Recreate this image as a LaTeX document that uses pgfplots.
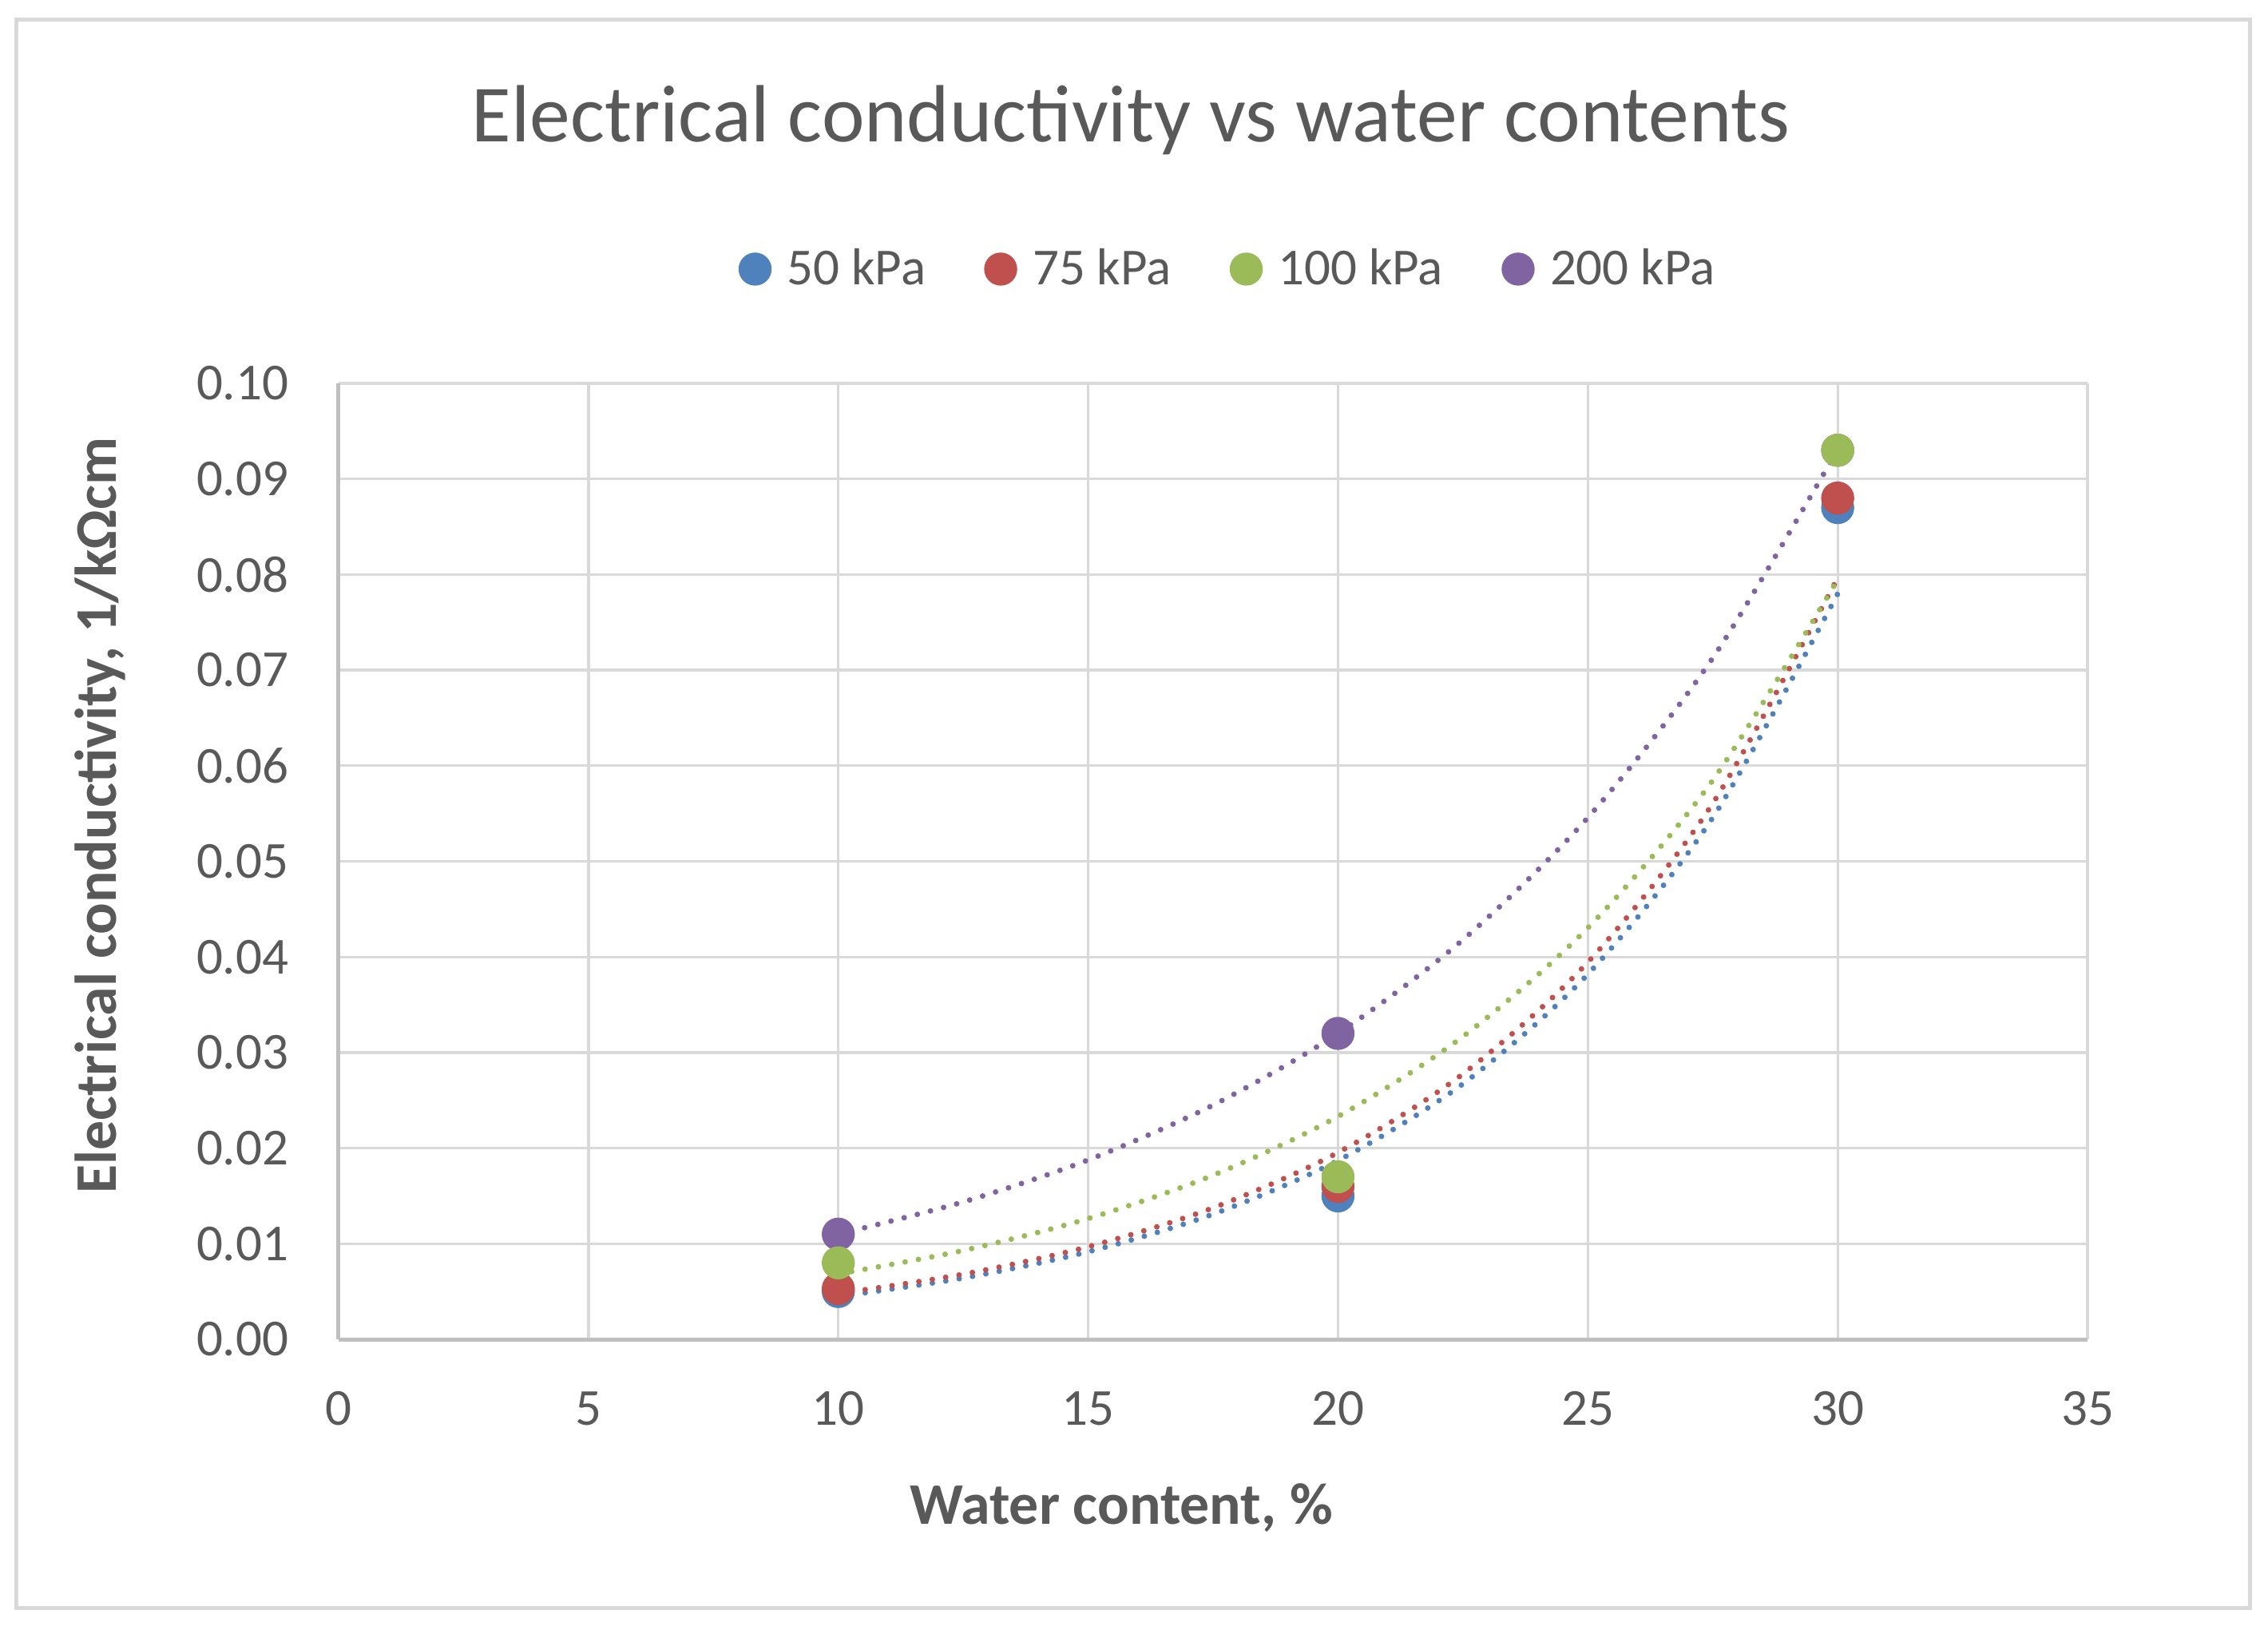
\documentclass[border=0pt]{standalone}
\usepackage{pgfplots}
\pgfplotsset{compat=1.18}
\usepackage{fontspec}
\setmainfont{Carlito}
\definecolor{cblue}{HTML}{4F81BD}
\definecolor{cred}{HTML}{C0504D}
\definecolor{cgreen}{HTML}{9BBB59}
\definecolor{cpurple}{HTML}{8064A2}
\definecolor{txtgray}{HTML}{595959}
\definecolor{gridgray}{HTML}{D9D9D9}
\definecolor{axisgray}{HTML}{BFBFBF}
\begin{document}
\begin{tikzpicture}
\path[use as bounding box] (0,0) rectangle (284mm,204mm);
\draw[gridgray, line width=0.5mm] (2mm,201.5mm) rectangle (281.7mm,2.7mm);
\node[anchor=base, text=txtgray, font=\fontsize{28.9}{33}\selectfont] at (141.6mm,186.2mm) {Electrical conductivity vs water contents};
\begin{axis}[
  at={(42.4mm,36.3mm)}, anchor=south west,
  scale only axis, width=219mm, height=119.7mm,
  xmin=0, xmax=35, ymin=0, ymax=0.1,
  xtick={0,5,10,15,20,25,30,35},
  ytick={0,0.01,0.02,0.03,0.04,0.05,0.06,0.07,0.08,0.09,0.1},
  grid=major, major grid style={gridgray, line width=0.33mm},
  axis x line=bottom, axis y line=left,
  axis line style={-, axisgray, line width=0.5mm},
  major tick length=0pt,
  tick label style={font=\fontsize{18.5}{20}\selectfont, text=txtgray, inner sep=0pt},
  /pgf/number format/assume math mode=true,
  yticklabel style={/pgf/number format/.cd, fixed, fixed zerofill, precision=2, /tikz/.cd, xshift=-6.2mm},
  xticklabel style={yshift=-6.5mm},
  xlabel={Water content, \%},
  ylabel={Electrical conductivity, 1/kΩcm},
  label style={font=\bfseries\fontsize{21}{24}\selectfont, text=txtgray},
  xlabel style={at={(axis description cs:0.4475,-0.193)}, anchor=base},
  ylabel style={at={(axis description cs:-0.1274,0.548)}, anchor=base},
  legend style={at={(axis description cs:0.508,1.1195)}, anchor=center, draw=none, fill=none,
    legend columns=-1, font=\fontsize{18.5}{20}\selectfont, text=txtgray, inner sep=0pt,
    nodes={inner sep=0pt, text=txtgray},
    /tikz/every odd column/.append style={column sep=2mm},
    /tikz/every even column/.append style={column sep=7.4mm}},
  legend image code/.code={\draw[#1] plot coordinates {(2mm,0mm)};},
  trend/.style={line width=0.7mm, dash pattern=on 0pt off 1.7mm, line cap=round, smooth, forget plot, mark=none},
  pt/.style={only marks, mark=*, mark size=2mm},
]
\addplot[pt, cpurple, forget plot] coordinates {(10,0.011) (20,0.032) (30,0.093)};
\addplot[pt, cblue] coordinates {(10,0.005) (20,0.015) (30,0.087)};
\addlegendentry{50 kPa}
\addplot[pt, cred] coordinates {(10,0.0053) (20,0.016) (30,0.088)};
\addlegendentry{75 kPa}
\addplot[pt, cgreen] coordinates {(10,0.008) (20,0.017) (30,0.093)};
\addlegendentry{100 kPa}
\addlegendimage{pt, cpurple}
\addlegendentry{200 kPa}
\addplot[trend, cblue] coordinates {(10,0.00448) (12.5,0.00641) (15,0.00916) (17.5,0.01309) (20,0.0187) (22.5,0.02672) (25,0.03819) (27.5,0.05457) (30,0.07798)};
\addplot[trend, cred] coordinates {(10,0.00479) (12.5,0.00681) (15,0.00968) (17.5,0.01375) (20,0.01954) (22.5,0.02776) (25,0.03945) (27.5,0.05606) (30,0.07965)};
\addplot[trend, cgreen] coordinates {(10,0.00684) (12.5,0.00929) (15,0.01263) (17.5,0.01716) (20,0.02331) (22.5,0.03167) (25,0.04304) (27.5,0.05848) (30,0.07947)};
\addplot[trend, cpurple] coordinates {(10,0.01100) (12.5,0.01437) (15,0.01876) (17.5,0.02450) (20,0.03200) (22.5,0.04179) (25,0.05457) (27.5,0.07127) (30,0.09307)};
\end{axis}
\end{tikzpicture}
\end{document}
